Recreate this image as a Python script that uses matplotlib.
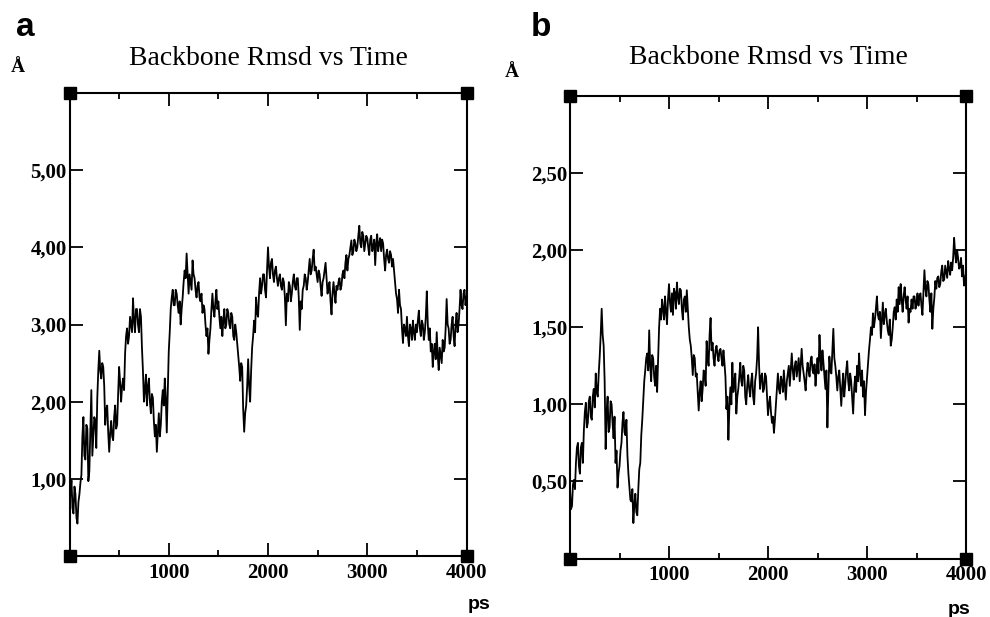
import matplotlib
matplotlib.use("Agg")
import matplotlib.pyplot as plt

# ---- data, time in ps ----
time_ps = list(range(0, 4001, 20))        # samples on the 20 ps grid
time_mid_ps = list(range(10, 4000, 20))   # samples in between (noise band)

rmsd_a = [
    0.60, 0.98, 0.55, 0.80, 0.42,
    0.80, 1.05, 1.80, 1.25, 1.65,
    1.10, 2.15, 1.55, 1.75, 2.05,
    2.66, 2.30, 2.45, 1.70, 1.95,
    1.35, 1.75, 1.50, 1.95, 1.70,
    2.45, 2.00, 2.30, 2.62, 2.95,
    2.85, 3.00, 3.34, 2.90, 3.20,
    2.90, 3.10, 2.40, 2.15, 1.95,
    2.30, 1.85, 2.05, 1.55, 1.35,
    1.85, 1.70, 2.15, 2.30, 1.60,
    2.65, 3.20, 3.45, 3.25, 3.40,
    3.15, 3.00, 3.35, 3.70, 3.92,
    3.40, 3.55, 3.83, 3.60, 3.35,
    3.55, 3.30, 3.15, 3.20, 2.85,
    2.62, 2.95, 3.40, 3.10, 3.45,
    3.30, 2.95, 2.85, 3.20, 3.00,
    3.15, 2.95, 3.10, 2.80, 2.90,
    2.60, 2.27, 2.45, 1.61, 1.95,
    2.55, 2.00, 2.70, 3.05, 3.35,
    3.10, 3.60, 3.50, 3.65, 3.35,
    4.00, 3.60, 3.85, 3.55, 3.75,
    3.50, 3.65, 3.45, 3.55, 2.99,
    3.30, 3.50, 3.40, 3.65, 3.45,
    3.60, 2.93, 3.20, 3.50, 3.60,
    3.55, 3.85, 3.70, 3.97, 3.75,
    3.55, 3.65, 3.37, 3.60, 3.80,
    3.40, 3.55, 3.13, 3.55, 3.28,
    3.45, 3.60, 3.50, 3.70, 3.80,
    3.70, 3.90, 4.09, 3.95, 4.05,
    4.00, 4.28, 4.00, 4.15, 4.05,
    4.12, 3.90, 4.15, 4.00, 3.77,
    4.17, 4.05, 3.95, 4.05, 3.70,
    3.97, 3.80, 3.90, 3.85, 3.55,
    3.33, 3.45, 3.20, 2.76, 2.95,
    3.10, 2.72, 2.95, 3.05, 2.80,
    2.90, 3.18, 2.85, 3.00, 2.90,
    3.43, 2.80, 2.65, 2.45, 2.75,
    2.90, 2.41, 2.60, 2.80, 2.70,
    3.33, 2.95, 2.80, 3.10, 2.72,
    3.15, 3.00, 3.45, 3.20, 3.45,
    3.35,
]

rmsd_a_mid = [
    0.85, 0.62, 0.90, 0.50, 0.70,
    0.95, 1.55, 1.30, 1.70, 0.97,
    1.60, 1.30, 1.80, 1.40, 2.40,
    2.40, 2.50, 2.20, 1.90, 1.60,
    1.60, 1.55, 1.80, 1.65, 2.10,
    2.25, 2.20, 2.15, 2.85, 2.75,
    3.10, 2.90, 3.05, 3.20, 3.00,
    3.20, 2.70, 2.00, 2.35, 2.20,
    2.00, 2.10, 1.75, 1.70, 1.60,
    1.55, 2.00, 1.95, 2.05, 2.10,
    2.90, 3.35, 3.25, 3.45, 3.25,
    3.30, 3.20, 3.55, 3.60, 3.65,
    3.65, 3.45, 3.65, 3.45, 3.50,
    3.35, 3.40, 3.25, 3.00, 2.95,
    2.80, 3.20, 3.20, 3.30, 3.20,
    3.10, 3.10, 3.05, 2.95, 3.20,
    3.00, 3.15, 2.85, 3.00, 2.75,
    2.45, 2.50, 1.90, 1.85, 2.20,
    2.20, 2.40, 2.85, 2.90, 3.15,
    3.40, 3.40, 3.65, 3.45, 3.70,
    3.75, 3.80, 3.65, 3.70, 3.60,
    3.60, 3.50, 3.60, 3.35, 3.40,
    3.55, 3.30, 3.55, 3.50, 3.60,
    3.35, 3.30, 3.45, 3.65, 3.45,
    3.70, 3.65, 3.85, 3.70, 3.65,
    3.70, 3.50, 3.55, 3.70, 3.60,
    3.50, 3.30, 3.40, 3.40, 3.50,
    3.55, 3.45, 3.65, 3.60, 3.90,
    3.85, 4.00, 3.90, 4.10, 3.95,
    4.15, 4.05, 4.20, 3.95, 4.15,
    4.00, 4.10, 3.95, 4.10, 4.05,
    3.95, 4.12, 4.10, 3.85, 3.90,
    3.85, 3.95, 3.75, 3.70, 3.40,
    3.15, 3.25, 2.95, 3.00, 2.85,
    2.85, 3.00, 2.80, 2.90, 3.00,
    3.05, 2.95, 3.05, 2.80, 3.10,
    3.00, 2.95, 2.75, 2.65, 2.55,
    2.60, 2.70, 2.50, 2.65, 2.95,
    3.00, 2.75, 3.00, 2.85, 3.00,
    2.90, 3.20, 3.25, 3.40, 3.25,
]

rmsd_b = [
    0.45, 0.34, 0.51, 0.62, 0.75,
    0.55, 0.75, 0.83, 1.01, 0.88,
    1.05, 0.90, 1.10, 1.20, 1.05,
    1.31, 1.62, 1.38, 0.71, 1.05,
    0.85, 1.00, 0.78, 0.62, 0.46,
    0.60, 0.75, 0.95, 0.80, 0.67,
    0.46, 0.37, 0.23, 0.42, 0.28,
    0.58, 0.80, 1.02, 1.22, 1.33,
    1.48, 1.15, 1.30, 1.12, 1.08,
    1.50, 1.55, 1.62, 1.70, 1.52,
    1.78, 1.60, 1.58, 1.72, 1.79,
    1.65, 1.74, 1.55, 1.70, 1.74,
    1.50, 1.38, 1.19, 1.30, 1.20,
    0.96, 1.15, 1.10, 1.20, 1.41,
    1.25, 1.56, 1.40, 1.25, 1.38,
    1.28, 1.36, 1.25, 1.27, 0.97,
    0.77, 1.11, 1.27, 1.15, 0.94,
    1.10, 1.27, 1.12, 1.22, 1.00,
    1.19, 1.05, 1.20, 1.00, 1.20,
    1.50, 1.10, 1.20, 1.10, 1.18,
    0.93, 1.05, 0.88, 0.815, 1.00,
    1.20, 1.07, 1.15, 1.22, 1.03,
    1.20, 1.12, 1.33, 1.16, 1.28,
    1.24, 1.15, 1.36, 1.20, 1.09,
    1.27, 1.18, 1.31, 1.20, 1.12,
    1.30, 1.45, 1.22, 1.27, 1.10,
    0.85, 1.31, 1.20, 1.49, 1.25,
    1.09, 1.22, 0.99, 1.20, 1.13,
    1.28, 1.09, 1.15, 0.94, 1.18,
    1.25, 1.33, 1.12, 1.05, 0.93,
    1.17, 1.35, 1.50, 1.59, 1.55,
    1.70, 1.55, 1.43, 1.66, 1.58,
    1.54, 1.45, 1.38, 1.50, 1.63,
    1.68, 1.76, 1.78, 1.60, 1.76,
    1.62, 1.53, 1.60, 1.62, 1.70,
    1.66, 1.64, 1.72, 1.58, 1.87,
    1.70, 1.78, 1.60, 1.49, 1.69,
    1.75, 1.83, 1.78, 1.90, 1.81,
    1.86, 1.93, 1.84, 1.87, 2.08,
    1.92, 1.95, 1.89, 1.83, 1.77,
    1.85,
]

rmsd_b_mid = [
    0.32, 0.48, 0.45, 0.72, 0.60,
    0.72, 0.62, 0.95, 0.85, 1.02,
    0.92, 1.05, 0.98, 1.08, 1.20,
    1.45, 1.45, 1.15, 0.95, 0.82,
    1.02, 0.88, 0.92, 0.70, 0.55,
    0.70, 0.88, 0.82, 0.90, 0.55,
    0.38, 0.45, 0.35, 0.30, 0.45,
    0.62, 0.90, 1.15, 1.30, 1.22,
    1.25, 1.32, 1.18, 1.25, 1.30,
    1.62, 1.68, 1.55, 1.60, 1.68,
    1.66, 1.72, 1.75, 1.62, 1.70,
    1.75, 1.62, 1.68, 1.60, 1.62,
    1.42, 1.30, 1.32, 1.18, 1.08,
    1.08, 1.02, 1.22, 1.12, 1.30,
    1.45, 1.35, 1.30, 1.35, 1.32,
    1.35, 1.30, 1.35, 1.18, 1.05,
    0.98, 1.00, 1.08, 1.20, 1.05,
    1.18, 1.15, 1.25, 1.05, 1.12,
    1.10, 1.15, 1.05, 1.15, 1.30,
    1.25, 1.18, 1.08, 1.20, 1.05,
    1.00, 0.95, 0.92, 0.90, 1.10,
    1.10, 1.18, 1.08, 1.12, 1.15,
    1.25, 1.22, 1.22, 1.25, 1.18,
    1.30, 1.25, 1.25, 1.15, 1.20,
    1.22, 1.28, 1.22, 1.26, 1.22,
    1.20, 1.30, 1.35, 1.18, 1.22,
    1.10, 1.22, 1.35, 1.30, 1.18,
    1.18, 1.10, 1.12, 1.05, 1.22,
    1.15, 1.20, 1.05, 1.10, 1.08,
    1.15, 1.20, 1.22, 1.15, 1.08,
    1.25, 1.42, 1.45, 1.50, 1.62,
    1.58, 1.60, 1.55, 1.52, 1.62,
    1.48, 1.55, 1.42, 1.60, 1.55,
    1.60, 1.65, 1.68, 1.70, 1.68,
    1.70, 1.62, 1.68, 1.70, 1.62,
    1.72, 1.70, 1.64, 1.72, 1.75,
    1.80, 1.68, 1.72, 1.62, 1.80,
    1.82, 1.76, 1.86, 1.80, 1.90,
    1.82, 1.88, 1.92, 1.95, 1.98,
    2.00, 1.88, 1.95, 1.90, 1.82,
]

x_ticks = [1000, 2000, 3000, 4000]
x_tick_labels = ["1000", "2000", "3000", "4000"]
y_ticks_a = [1, 2, 3, 4, 5]
y_tick_labels_a = ["1,00", "2,00", "3,00", "4,00", "5,00"]
y_ticks_b = [0.5, 1.0, 1.5, 2.0, 2.5]
y_tick_labels_b = ["0,50", "1,00", "1,50", "2,00", "2,50"]
title = "Backbone Rmsd vs Time"

SERIF = ["Liberation Serif", "DejaVu Serif"]
SANS = ["Liberation Sans", "DejaVu Sans"]


def merged(t_main, v_main, t_mid, v_mid):
    pairs = sorted(list(zip(t_main, v_main)) + list(zip(t_mid, v_mid)))
    return [p[0] for p in pairs], [p[1] for p in pairs]


fig = plt.figure(figsize=(9.9, 6.17), dpi=100)
W, H = 990, 617


def px_axes(l, t, r, b):
    return fig.add_axes([l / W, 1 - b / H, (r - l) / W, (b - t) / H])


def style(ax, ymax, yt, ytl):
    ax.set_xlim(0, 4000)
    ax.set_ylim(0, ymax)
    ax.set_xticks(x_ticks)
    ax.set_xticklabels(x_tick_labels)
    ax.set_xticks([500, 1500, 2500, 3500], minor=True)
    ax.set_yticks(yt)
    ax.set_yticklabels(ytl)
    for s in ax.spines.values():
        s.set_linewidth(1.5)
    ax.tick_params(which="major", direction="in", length=9.5, width=1.3,
                   top=True, right=True, labelsize=15)
    ax.tick_params(which="minor", direction="in", length=4, width=1.3,
                   top=True, right=True)
    ax.tick_params(axis="x", which="major", pad=5)
    ax.tick_params(axis="y", which="major", pad=2)
    for lab in ax.get_xticklabels() + ax.get_yticklabels():
        lab.set_fontfamily(SERIF)
        lab.set_fontweight("bold")
    ax.plot([0, 1, 0, 1], [0, 0, 1, 1], transform=ax.transAxes, ls="none",
            marker="s", ms=8.5, color="black", clip_on=False, zorder=5)


ta, va = merged(time_ps, rmsd_a, time_mid_ps, rmsd_a_mid)
tb, vb = merged(time_ps, rmsd_b, time_mid_ps, rmsd_b_mid)

ax1 = px_axes(69.5, 93, 466.5, 556)
ax1.plot(ta, va, color="black", lw=1.3)
style(ax1, 6, y_ticks_a, y_tick_labels_a)

ax2 = px_axes(570, 96, 966, 558.5)
ax2.plot(tb, vb, color="black", lw=1.3)
style(ax2, 3, y_ticks_b, y_tick_labels_b)

# titles and labels
fig.text(268 / W, 1 - 65 / H, title, ha="center", va="baseline",
         fontsize=20, family=SERIF)
fig.text(768 / W, 1 - 64 / H, title, ha="center", va="baseline",
         fontsize=20, family=SERIF)
fig.text(16 / W, 1 - 36 / H, "a", ha="left", va="baseline",
         fontsize=24, fontweight="bold", family=SANS)
fig.text(531 / W, 1 - 36 / H, "b", ha="left", va="baseline",
         fontsize=24, fontweight="bold", family=SANS)
fig.text(17.5 / W, 1 - 72 / H, "Å", ha="center", va="baseline",
         fontsize=14, fontweight="bold", family=SERIF)
fig.text(511.5 / W, 1 - 77 / H, "Å", ha="center", va="baseline",
         fontsize=14, fontweight="bold", family=SERIF)
fig.text(479 / W, 1 - 609 / H, "ps", ha="center", va="baseline",
         fontsize=14, fontweight="bold", family=SANS)
fig.text(959 / W, 1 - 614 / H, "ps", ha="center", va="baseline",
         fontsize=14, fontweight="bold", family=SANS)

fig.savefig("out.png", dpi=100, facecolor="white")
